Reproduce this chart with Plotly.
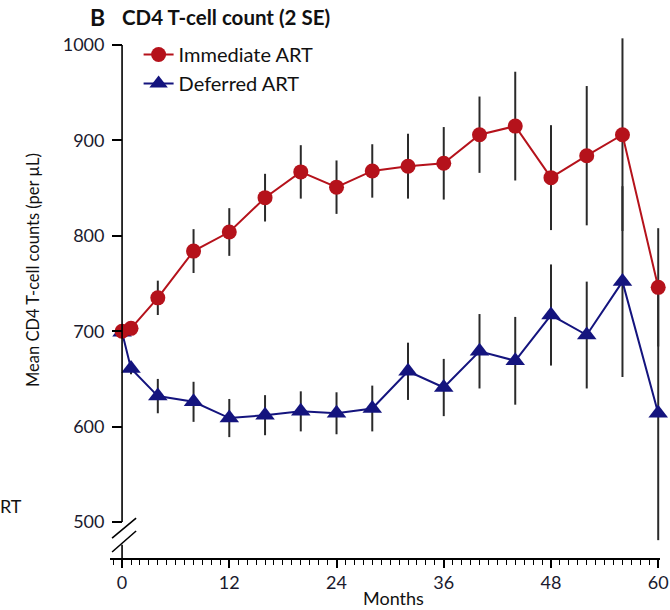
import plotly.graph_objects as go

months = [0, 1, 4, 8, 12, 16, 20, 24, 28, 32, 36, 40, 44, 48, 52, 56, 60]
immediate = [700, 703, 735, 784, 804, 840, 867, 851, 868, 873, 876, 906, 915, 861, 884, 906, 746]
immediate_2se = [0, 6, 18, 23, 25, 25, 28, 28, 28, 34, 38, 40, 57, 55, 73, 101, 62]
deferred = [699, 661, 632, 626, 609, 612, 616, 614, 619, 658, 641, 679, 669, 717, 696, 752, 614]
deferred_2se = [0, 6, 18, 21, 20, 21, 21, 22, 24, 30, 30, 39, 46, 53, 56, 100, 133]
x_ticks = [0, 12, 24, 36, 48, 60]
y_ticks = [500, 600, 700, 800, 900, 1000]

RED = "#b5121b"
BLUE = "#14147e"
FONT = "Lato"
TXT = "#1a1a2e"

X_RANGE = [-1.35, 60.2]
Y_RANGE = [462.3, 1010.5]
PW, PH = 550, 523  # plot area size
L, B = 110, 52

def px_x(p):
    return (p - L) / PW

def px_y(p):
    return (610 - B - p) / PH

fig = go.Figure()
fig.add_trace(go.Scatter(
    x=months, y=deferred, mode="lines+markers", name="Deferred ART",
    line=dict(color=BLUE, width=2),
    marker=dict(symbol="triangle-up", size=17, color=BLUE),
    error_y=dict(type="data", array=deferred_2se, color="#2a2a2a", thickness=2, width=0),
    legendrank=2, cliponaxis=False,
))
fig.add_trace(go.Scatter(
    x=months, y=immediate, mode="lines+markers", name="Immediate ART",
    line=dict(color=RED, width=2),
    marker=dict(symbol="circle", size=15, color=RED),
    error_y=dict(type="data", array=immediate_2se, color="#2a2a2a", thickness=2, width=0),
    legendrank=1, cliponaxis=False,
))

# y-axis line with break (axis decoration)
axis_line = dict(color="black", width=1.6)
fig.add_shape(type="line", xref="x", yref="y", x0=0, x1=0, y0=1000, y1=500, line=axis_line)
fig.add_shape(type="line", xref="x", yref="y", x0=0, x1=0, y0=476.3, y1=Y_RANGE[0], line=axis_line)
fig.add_shape(type="line", xref="x", yref="y", x0=-1.12, x1=1.57, y0=483.2, y1=504.2, line=axis_line)
fig.add_shape(type="line", xref="x", yref="y", x0=-1.12, x1=1.57, y0=468.6, y1=490.6, line=axis_line)

fig.update_layout(
    width=670, height=610,
    margin=dict(l=L, r=670 - L - PW, t=610 - B - PH, b=B, autoexpand=False),
    paper_bgcolor="white", plot_bgcolor="white",
    font=dict(family=FONT, color=TXT, size=16),
    showlegend=True,
    legend=dict(x=0.052, y=1.0, xanchor="left", yanchor="top",
                font=dict(family=FONT, size=20, color="#111"),
                bgcolor="rgba(0,0,0,0)", itemwidth=30, tracegroupgap=0),
    xaxis=dict(range=X_RANGE, tickmode="array", tickvals=x_ticks, automargin=False,
               ticks="outside", ticklen=8, tickwidth=1.6, tickcolor="black",
               showline=True, linecolor="black", linewidth=1.6,
               showgrid=False, zeroline=False, ticklabeloverflow="allow",
               tickfont=dict(family=FONT, size=18, color=TXT),
               minor=dict(dtick=1, tick0=0, ticks="outside", ticklen=5, tickwidth=1.2, tickcolor="black")),
    yaxis=dict(range=Y_RANGE, tickmode="array", tickvals=y_ticks, automargin=False,
               anchor="free", position=1.35 / 61.55,
               ticks="outside", ticklen=10, tickwidth=1.6, tickcolor="black",
               showline=False, showgrid=False, zeroline=False, ticklabelstandoff=4,
               tickfont=dict(family=FONT, size=18, color=TXT)),
)

fig.add_annotation(text="<b>B</b>", xref="paper", yref="paper", x=px_x(97), y=px_y(17),
                   xanchor="center", yanchor="middle", showarrow=False,
                   font=dict(family=FONT, size=23, color="#111"))
fig.add_annotation(text="<b>CD4 T-cell count (2 SE)</b>", xref="paper", yref="paper",
                   x=px_x(120), y=px_y(17),
                   xanchor="left", yanchor="middle", showarrow=False,
                   font=dict(family=FONT, size=20.5, color="#111"))
fig.add_annotation(text="Mean CD4 T-cell counts (per µL)", xref="paper", yref="paper",
                   x=px_x(33), y=px_y(270), textangle=-90,
                   xanchor="center", yanchor="middle", showarrow=False,
                   font=dict(family=FONT, size=16.5, color="#111"))
fig.add_annotation(text="Months", xref="paper", yref="paper",
                   x=px_x(393), y=px_y(598),
                   xanchor="center", yanchor="middle", showarrow=False,
                   font=dict(family=FONT, size=18, color="#111"))
fig.add_annotation(text="RT", xref="paper", yref="paper",
                   x=px_x(-2), y=px_y(506),
                   xanchor="left", yanchor="middle", showarrow=False,
                   font=dict(family=FONT, size=18, color="#111"))

fig.write_html("out.html")
